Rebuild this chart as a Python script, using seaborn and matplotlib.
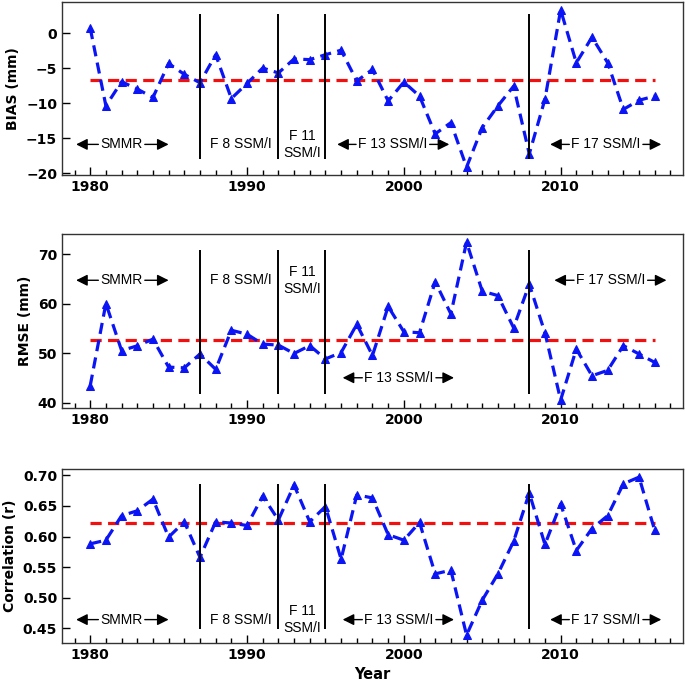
#!/usr/bin/env python3
# coding=utf-8
import matplotlib
matplotlib.use('Agg')
import matplotlib.pyplot as plt
from matplotlib.ticker import MultipleLocator
import numpy as np
import pandas as pd
import seaborn as sns

years = list(range(1980, 2017))

bias = [0.7, -10.4, -6.95, -8.0, -9.2, -4.35, -5.9, -7.1, -3.1, -9.35,
        -7.2, -5.0, -5.7, -3.7, -3.8, -3.1, -2.45, -6.85, -5.2, -9.7,
        -7.0, -9.0, -14.4, -12.8, -19.15, -13.5, -10.4, -7.6, -17.25, -9.45,
        3.3, -4.25, -0.6, -4.25, -10.9, -9.6, -9.0]
rmse = [43.4, 60.0, 50.5, 51.45, 52.8, 47.15, 47.0, 49.8, 46.7, 54.6,
        53.8, 51.8, 51.6, 49.9, 51.5, 48.8, 50.1, 55.8, 49.5, 59.4,
        54.3, 54.1, 64.4, 57.9, 72.4, 62.5, 61.6, 55.1, 63.9, 54.1,
        40.5, 50.8, 45.4, 46.5, 51.5, 49.8, 48.1]
corr = [0.588, 0.594, 0.634, 0.642, 0.661, 0.599, 0.624, 0.566, 0.624, 0.622,
        0.618, 0.666, 0.627, 0.684, 0.624, 0.649, 0.563, 0.668, 0.663, 0.603,
        0.594, 0.623, 0.539, 0.545, 0.439, 0.496, 0.539, 0.592, 0.671, 0.587,
        0.653, 0.577, 0.613, 0.634, 0.686, 0.697, 0.610]

means = [-6.7, 52.6, 0.6223]
ylabels = ['BIAS (mm)', 'RMSE (mm)', 'Correlation (r)']
sensor_breaks = [1987, 1992, 1995, 2008]

sns.set_style('ticks')
plt.rcParams['font.family'] = ['DejaVu Sans']
plt.rcParams['text.color'] = 'black'
plt.rcParams['axes.labelcolor'] = 'black'
plt.rcParams['xtick.color'] = 'black'
plt.rcParams['ytick.color'] = 'black'

fig = plt.figure(figsize=(6.85, 6.81), dpi=100)
boxes = [[0.0905, 0.743, 0.9065, 0.254],
         [0.0905, 0.401, 0.9065, 0.255],
         [0.0905, 0.0558, 0.9065, 0.2552]]

# vertical line extents and label rows per panel (data units)
vspan = [(-18.05, 2.65), (41.8, 70.9), (0.4486, 0.686)]
# label, center x, y, left arrow tip, right arrow tip
labels = [
    [('SMMR', 1982.0, -15.9, 1979.1, 1985.0),
     ('F 8 SSM/I', 1989.6, -15.9, None, None),
     ('F 11\nSSM/I', 1993.5, -15.9, None, None),
     ('F 13 SSM/I', 1999.3, -15.9, 1995.75, 2002.9),
     ('F 17 SSM/I', 2012.9, -15.9, 2009.33, 2016.42)],
    [('SMMR', 1982.0, 64.7, 1979.1, 1985.0),
     ('F 8 SSM/I', 1989.6, 64.7, None, None),
     ('F 11\nSSM/I', 1993.5, 64.7, None, None),
     ('F 13 SSM/I', 1999.7, 45.0, 1996.1, 2003.2),
     ('F 17 SSM/I', 2013.2, 64.7, 2009.6, 2016.75)],
    [('SMMR', 1982.0, 0.4643, 1979.1, 1985.0),
     ('F 8 SSM/I', 1989.6, 0.4643, None, None),
     ('F 11\nSSM/I', 1993.5, 0.4643, None, None),
     ('F 13 SSM/I', 1999.7, 0.4643, 1996.1, 2003.2),
     ('F 17 SSM/I', 2012.9, 0.4643, 2009.33, 2016.42)],
]

series = [bias, rmse, corr]
for i in range(3):
    ax = fig.add_axes(boxes[i])
    df = pd.DataFrame({'year': years, 'val': series[i]})
    sns.lineplot(data=df, x='year', y='val', ax=ax, color='#0a14f5',
                 linestyle=(0, (3.5, 2)), linewidth=2.3, marker='^',
                 markersize=6, markeredgecolor='#0a14f5')
    ax.plot([years[0], years[-1]], [means[i], means[i]], color='#f01010',
            linestyle=(0, (3.5, 2)), linewidth=2.3, zorder=1.5)
    ax.vlines(sensor_breaks, vspan[i][0], vspan[i][1], color='black', linewidth=1.4)

    for lab, cx, cy, lt, rt in labels[i]:
        t = ax.text(cx, cy, lab, ha='center', va='center', fontsize=10,
                    family='Liberation Sans', linespacing=1.25, color='black')
        aprops = dict(arrowstyle='-|>', color='black', lw=1.0,
                      mutation_scale=17, shrinkA=1.5, shrinkB=0)
        if lt is not None:
            ax.annotate('', xy=(lt, cy), xycoords='data', xytext=(0, 0.5),
                        textcoords=t, arrowprops=aprops)
        if rt is not None:
            ax.annotate('', xy=(rt, cy), xycoords='data', xytext=(1, 0.5),
                        textcoords=t, arrowprops=aprops)

    ax.set_xlim(1978.2, 2017.8)
    ax.xaxis.set_major_locator(MultipleLocator(10))
    ax.xaxis.set_minor_locator(MultipleLocator(1))
    ax.tick_params(which='major', direction='in', length=6, width=1.0,
                   labelsize=10)
    ax.tick_params(which='minor', direction='in', length=3.5, width=1.0)
    if i == 2:
        ax.yaxis.set_major_locator(MultipleLocator(0.05))
        ax.yaxis.set_major_formatter(plt.FormatStrFormatter('%.2f'))
        ax.set_xlabel('Year', fontsize=10.5, fontweight='bold')
    else:
        ax.set_xlabel('')
    ax.set_ylabel(ylabels[i], fontsize=10, fontweight='bold')
    for s in ax.spines.values():
        s.set_color('#333333')
        s.set_linewidth(1.0)
    for lbl in ax.get_xticklabels() + ax.get_yticklabels():
        lbl.set_fontweight('bold')

fig.savefig('out.png', dpi=100)
